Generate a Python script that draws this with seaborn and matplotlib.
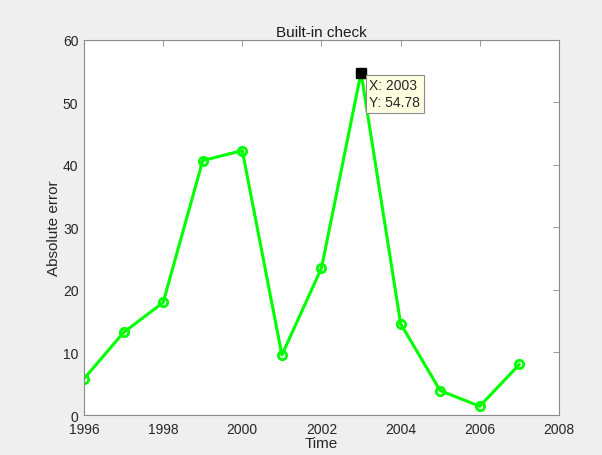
import numpy as np
import pandas as pd
import matplotlib
matplotlib.use('Agg')
import matplotlib.pyplot as plt
import seaborn as sns

# data
years = [1996, 1997, 1998, 1999, 2000, 2001, 2002, 2003, 2004, 2005, 2006, 2007]
abs_error = [5.8, 13.2, 18.0, 40.7, 42.3, 9.6, 23.5, 54.78, 14.6, 3.9, 1.4, 8.1]
tip_year = 2003
tip_value = 54.78

df = pd.DataFrame({'Time': years, 'Absolute error': abs_error})

sns.set_style('white')
plt.rcParams['font.family'] = ['Liberation Sans', 'DejaVu Sans']

fig = plt.figure(figsize=(6.02, 4.56), dpi=100, facecolor='#efefef')
ax = fig.add_axes([0.1395, 0.0877, 0.789, 0.8225])
ax.set_facecolor('white')

sns.lineplot(data=df, x='Time', y='Absolute error', ax=ax, color='#00ff00',
             linewidth=2.2, marker='o', markersize=6, markerfacecolor='none',
             markeredgecolor='#00ff00', markeredgewidth=2)

# data tip
ax.plot([tip_year], [tip_value], marker='s', color='black', markersize=7, zorder=5)
ax.annotate(f'X: {tip_year}\nY: {tip_value:.2f}', xy=(tip_year, tip_value),
            xytext=(6, -4), textcoords='offset points', ha='left', va='top',
            fontsize=10, linespacing=1.3,
            bbox=dict(boxstyle='square,pad=0.25', fc='#ffffe1', ec='#8c8c8c', lw=0.8),
            zorder=6)

ax.set_xlim(1996, 2008)
ax.set_ylim(0, 60)
ax.set_xticks(range(1996, 2009, 2))
ax.set_yticks(range(0, 61, 10))
ax.tick_params(direction='in', length=4, width=0.6, color='#8a8a8a', labelsize=10,
               labelcolor='#262626', top=True, right=True)
ax.tick_params(axis='x', pad=5)
ax.tick_params(axis='y', pad=4)
for s in ax.spines.values():
    s.set_color('#8a8a8a')
    s.set_linewidth(0.8)
ax.set_title('Built-in check', fontsize=11, color='#1a1a1a', pad=3)
ax.set_xlabel('Time', fontsize=11, color='#262626', labelpad=0)
ax.set_ylabel('Absolute error', fontsize=11, color='#262626', labelpad=1)

fig.savefig('out.png', dpi=100, facecolor=fig.get_facecolor())
